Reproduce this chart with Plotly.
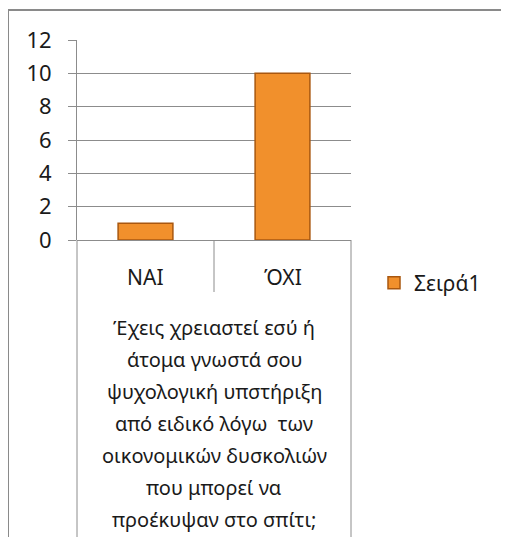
import plotly.graph_objects as go

# chart data
categories = ["NAI", "ΌΧΙ"]
values = [1, 10]
series_name = "Σειρά1"
y_ticks = [0, 2, 4, 6, 8, 10, 12]
question_lines = [
    "Έχεις χρειαστεί εσύ ή",
    "άτομα γνωστά σου",
    "ψυχολογική υπστήριξη",
    "από ειδικό λόγω  των",
    "οικονομικών δυσκολιών",
    "που μπορεί να",
    "προέκυψαν στο σπίτι;",
]

# the page body adds an 8px margin, so work in window pixels and shift
OFF = 8
W, H = 509 - 2 * OFF, 545 - 2 * OFF
plot_left, plot_right, plot_top, plot_bottom = 77 - OFF, 351 - OFF, 40 - OFF, 240 - OFF
pw = plot_right - plot_left
ph = plot_bottom - plot_top
font_family = "Noto Sans, Open Sans, DejaVu Sans, sans-serif"
text_color = "#1a1a1a"
line_grey = "#8c8c8c"


def px_y(y):
    # window pixel row -> paper y
    return (plot_bottom - (y - OFF)) / ph


def px_x(x):
    # window pixel column -> paper x
    return ((x - OFF) - plot_left) / pw


fig = go.Figure()
fig.add_trace(go.Bar(
    x=categories,
    y=values,
    name=series_name,
    width=0.4,
    marker=dict(color="#F1902C", line=dict(color="#A9570F", width=1.5)),
    showlegend=True,
))

shapes = [
    # outer frame (top and left)
    dict(type="line", xref="paper", yref="paper", x0=px_x(8), x1=px_x(509),
         y0=px_y(10), y1=px_y(10), line=dict(color="#8a8a8a", width=2)),
    dict(type="line", xref="paper", yref="paper", x0=px_x(8), x1=px_x(8),
         y0=px_y(10), y1=px_y(545), line=dict(color="#8a8a8a", width=2)),
    # category box
    dict(type="line", xref="paper", yref="paper", x0=0, x1=0,
         y0=0, y1=px_y(538), line=dict(color=line_grey, width=1)),
    dict(type="line", xref="paper", yref="paper", x0=1, x1=1,
         y0=0, y1=px_y(538), line=dict(color=line_grey, width=1)),
    dict(type="line", xref="x", yref="paper", x0=0.5, x1=0.5,
         y0=0, y1=px_y(292), line=dict(color=line_grey, width=1)),
]

annotations = []
for c in categories:
    annotations.append(dict(
        x=c, xref="x", y=px_y(277), yref="paper", text=c, showarrow=False,
        xanchor="center", yanchor="middle",
        font=dict(family=font_family, size=21, color=text_color),
    ))
for i, line in enumerate(question_lines):
    annotations.append(dict(
        x=0.5, xref="paper", y=px_y(327 + 32 * i), yref="paper",
        text=line.replace("  ", "&nbsp; "), showarrow=False,
        xanchor="center", yanchor="middle",
        font=dict(family=font_family, size=20, color=text_color),
    ))

fig.update_layout(
    width=W, height=H,
    margin=dict(l=plot_left, r=W - plot_right, t=plot_top, b=H - plot_bottom),
    paper_bgcolor="white", plot_bgcolor="white",
    font=dict(family=font_family, color=text_color),
    bargap=0.6,
    shapes=shapes,
    annotations=annotations,
    showlegend=True,
    legend=dict(
        x=px_x(374), y=px_y(283), xanchor="left", yanchor="middle",
        font=dict(family=font_family, size=21, color=text_color),
        bgcolor="rgba(0,0,0,0)",
    ),
    xaxis=dict(
        showticklabels=False, showgrid=False, showline=False, ticks="",
        range=[-0.5, 1.5],
    ),
    yaxis=dict(
        range=[0, 12], tickvals=y_ticks, showgrid=True, gridcolor=line_grey,
        gridwidth=1, zeroline=True, zerolinecolor=line_grey, zerolinewidth=1,
        showline=True, linecolor=line_grey, linewidth=1,
        ticks="outside", ticklen=8, tickcolor=line_grey,
        ticklabelstandoff=12,
        tickfont=dict(family=font_family, size=22, color=text_color),
    ),
)

fig.write_html("out.html", config={"displayModeBar": False})
